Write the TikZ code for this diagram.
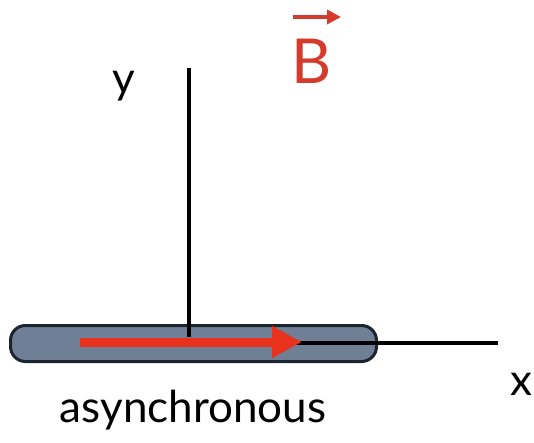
\documentclass[tikz,border=0pt]{standalone}
\usepackage{fontspec}
\setmainfont{Lato}
\usetikzlibrary{arrows.meta}
\definecolor{barfill}{HTML}{6F8096}
\definecolor{barline}{HTML}{1C2430}
\definecolor{vecred}{HTML}{E8321E}
\definecolor{labred}{HTML}{D63A2A}
\begin{document}
\begin{tikzpicture}[x=1pt,y=-1pt,
  axis/.style={line width=4pt,black},
  lbl/.style={inner sep=0pt,font=\fontsize{44}{50}\selectfont}]
\useasboundingbox (0,0) rectangle (534,443);
\fill[white] (0,0) rectangle (534,443);
\coordinate (ytop) at (189,68);
\coordinate (ybot) at (189,337);
\node[draw=barline,line width=3pt,fill=barfill,rounded corners=15pt,
  minimum width=366pt,minimum height=36pt,inner sep=0pt] (bar) at (193.5,343.5) {};
\draw[axis] (ytop) -- (ybot);
\coordinate (xs) at (295,343);
\coordinate (xe) at (498,343);
\draw[axis,line width=3.5pt] (xs) -- (xe);
\coordinate (as) at (80,342);
\coordinate (ae) at (302,342);
\draw[vecred,line width=9pt,-{Triangle[length=30pt,width=30pt]}] (as) -- (ae);
\node[lbl] (ylbl) at (124,86) {y};
\node[lbl] (xlbl) at (521,384) {x};
\node[lbl,text=labred,font=\fontsize{62}{70}\selectfont] (B) at (312,61) {B};
\draw[labred,line width=3.5pt,-{Triangle[length=14pt,width=14pt]}] (293,17) -- (341,17);
\node[lbl] (async) at (193,410) {asynchronous};
\end{tikzpicture}
\end{document}
